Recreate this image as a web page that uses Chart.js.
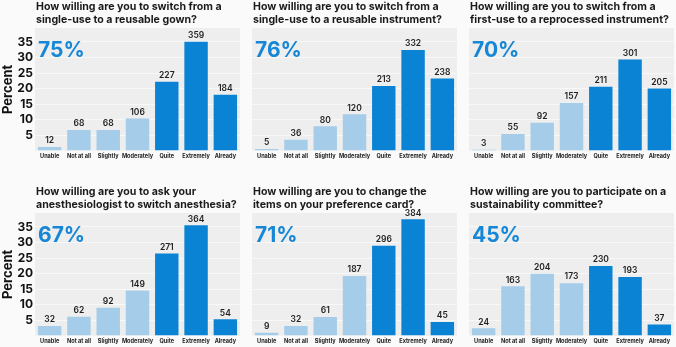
<!DOCTYPE html>
<html><head><meta charset="utf-8">
<script src="https://cdn.jsdelivr.net/npm/chart.js@4"></script>
<style>
html,body{margin:0;padding:0;background:#fafafa;}
body{width:676px;height:347px;overflow:hidden;position:relative;}
canvas{position:absolute;}
</style></head><body>
<canvas id="c0" width="242" height="162" style="left:0;top:0"></canvas>
<canvas id="c1" width="207" height="162" style="left:252px;top:0"></canvas>
<canvas id="c2" width="207" height="162" style="left:469px;top:0"></canvas>
<canvas id="c3" width="242" height="162" style="left:0;top:185px"></canvas>
<canvas id="c4" width="207" height="162" style="left:252px;top:185px"></canvas>
<canvas id="c5" width="207" height="162" style="left:469px;top:185px"></canvas>
<script>
const categories = ['Unable','Not at all','Slightly','Moderately','Quite','Extremely','Already'];
const yTickValues = [5,10,15,20,25,30,35];
const yAxisTitle = 'Percent';

const panelTitles = [
  ['How willing are you to switch from a','single-use to a reusable gown?'],
  ['How willing are you to switch from a','single-use to a reusable instrument?'],
  ['How willing are you to switch from a','first-use to a reprocessed instrument?'],
  ['How willing are you to ask your','anesthesiologist to switch anesthesia?'],
  ['How willing are you to change the','items on your preference card?'],
  ['How willing are you to participate on a','sustainability committee?']
];
const headlineShares = ['75%','76%','70%','67%','71%','45%'];

const gownCounts        = [12,68,68,106,227,359,184];
const gownPercent       = [1.17,6.64,6.64,10.35,22.17,35.06,17.97];
const instrumentCounts  = [5,36,80,120,213,332,238];
const instrumentPercent = [0.49,3.52,7.81,11.72,20.80,32.42,23.24];
const reprocessCounts   = [3,55,92,157,211,301,205];
const reprocessPercent  = [0.29,5.37,8.98,15.33,20.61,29.39,20.02];
const anesthesiaCounts  = [32,62,92,149,271,364,54];
const anesthesiaPercent = [3.13,6.05,8.98,14.55,26.46,35.55,5.27];
const prefCardCounts    = [9,32,61,187,296,384,45];
const prefCardPercent   = [0.88,3.13,5.96,19.24,28.91,37.5,4.39];
const committeeCounts   = [24,163,204,173,230,193,37];
const committeePercent  = [2.34,15.92,19.92,16.89,22.46,18.85,3.61];

const panelCounts  = [gownCounts,instrumentCounts,reprocessCounts,anesthesiaCounts,prefCardCounts,committeeCounts];
const panelPercent = [gownPercent,instrumentPercent,reprocessPercent,anesthesiaPercent,prefCardPercent,committeePercent];

const DARK = '#0a83d4', LIGHT = '#a5cce8', BIG = '#1687d6';
const FONT = 'Inter, "Noto Sans", sans-serif';
const barColors = categories.map((c,i)=> i>=4 ? DARK : LIGHT);

const panelPlugin = {
  id:'panelDeco',
  beforeDraw(chart){
    const {ctx, chartArea:a} = chart;
    ctx.save();
    ctx.fillStyle = '#eeeeee';
    ctx.fillRect(a.left, a.top, a.right-a.left, a.bottom-a.top);
    ctx.restore();
  },
  afterDraw(chart){
    const o = chart.options.plugins.panelDeco;
    const {ctx, chartArea:a} = chart;
    ctx.save();
    ctx.fillStyle = '#1b1b1b';
    ctx.font = '700 10.6px ' + FONT;
    ctx.textBaseline = 'middle';
    ctx.textAlign = 'left';
    o.title.forEach((t,i)=> ctx.fillText(t, a.left+1, 7 + i*13));
    ctx.fillStyle = BIG;
    ctx.font = '700 21px ' + FONT;
    ctx.textBaseline = 'alphabetic';
    ctx.fillText(o.big, a.left+3, a.top+28.7);
    ctx.fillStyle = '#222';
    ctx.font = '600 8.5px ' + FONT;
    ctx.textAlign = 'center';
    ctx.textBaseline = 'bottom';
    const meta = chart.getDatasetMeta(0);
    meta.data.forEach((bar,i)=>{
      ctx.fillText(String(o.counts[i]), bar.x, bar.y - 2);
    });
    ctx.restore();
  }
};

for (let p=0;p<6;p++){
  const col = p%3;
  new Chart(document.getElementById('c'+p), {
    type:'bar',
    data:{ labels: categories, datasets:[{ data: panelPercent[p], backgroundColor: barColors, borderWidth:0, barPercentage:0.8, categoryPercentage:1 }]},
    plugins:[panelPlugin],
    options:{
      responsive:false, animation:false, devicePixelRatio:1,
      layout:{ padding:{ top:28, right:2, bottom:0, left:0 } },
      plugins:{ legend:{display:false}, tooltip:{enabled:false}, title:{display:false},
        panelDeco:{ title: panelTitles[p], big: headlineShares[p], counts: panelCounts[p] } },
      scales:{
        x:{
          grid:{display:false, drawTicks:false, tickLength:0}, border:{display:false},
          ticks:{ color:'#222', font:{ family:FONT, size:5.6, weight:'700' }, padding:2, maxRotation:0, autoSkip:false },
          afterFit(s){ s.height = 11.4; }
        },
        y:{
          min:0, max:39.5,
          grid:{ color:'rgba(255,255,255,0.6)', drawTicks:false, lineWidth:1 },
          border:{display:false},
          afterBuildTicks(s){ s.ticks = yTickValues.map(v=>({value:v})); },
          ticks:{ display: col===0, color:'#111', font:{ family:FONT, size:12, weight:'700' }, padding:2 },
          title:{ display: col===0, text: yAxisTitle, color:'#111', font:{ family:FONT, size:13, weight:'700' }, padding:{top:0,bottom:2} },
          afterFit(s){ s.width = col===0 ? 35 : 0; }
        }
      }
    }
  });
}
</script>
</body></html>
